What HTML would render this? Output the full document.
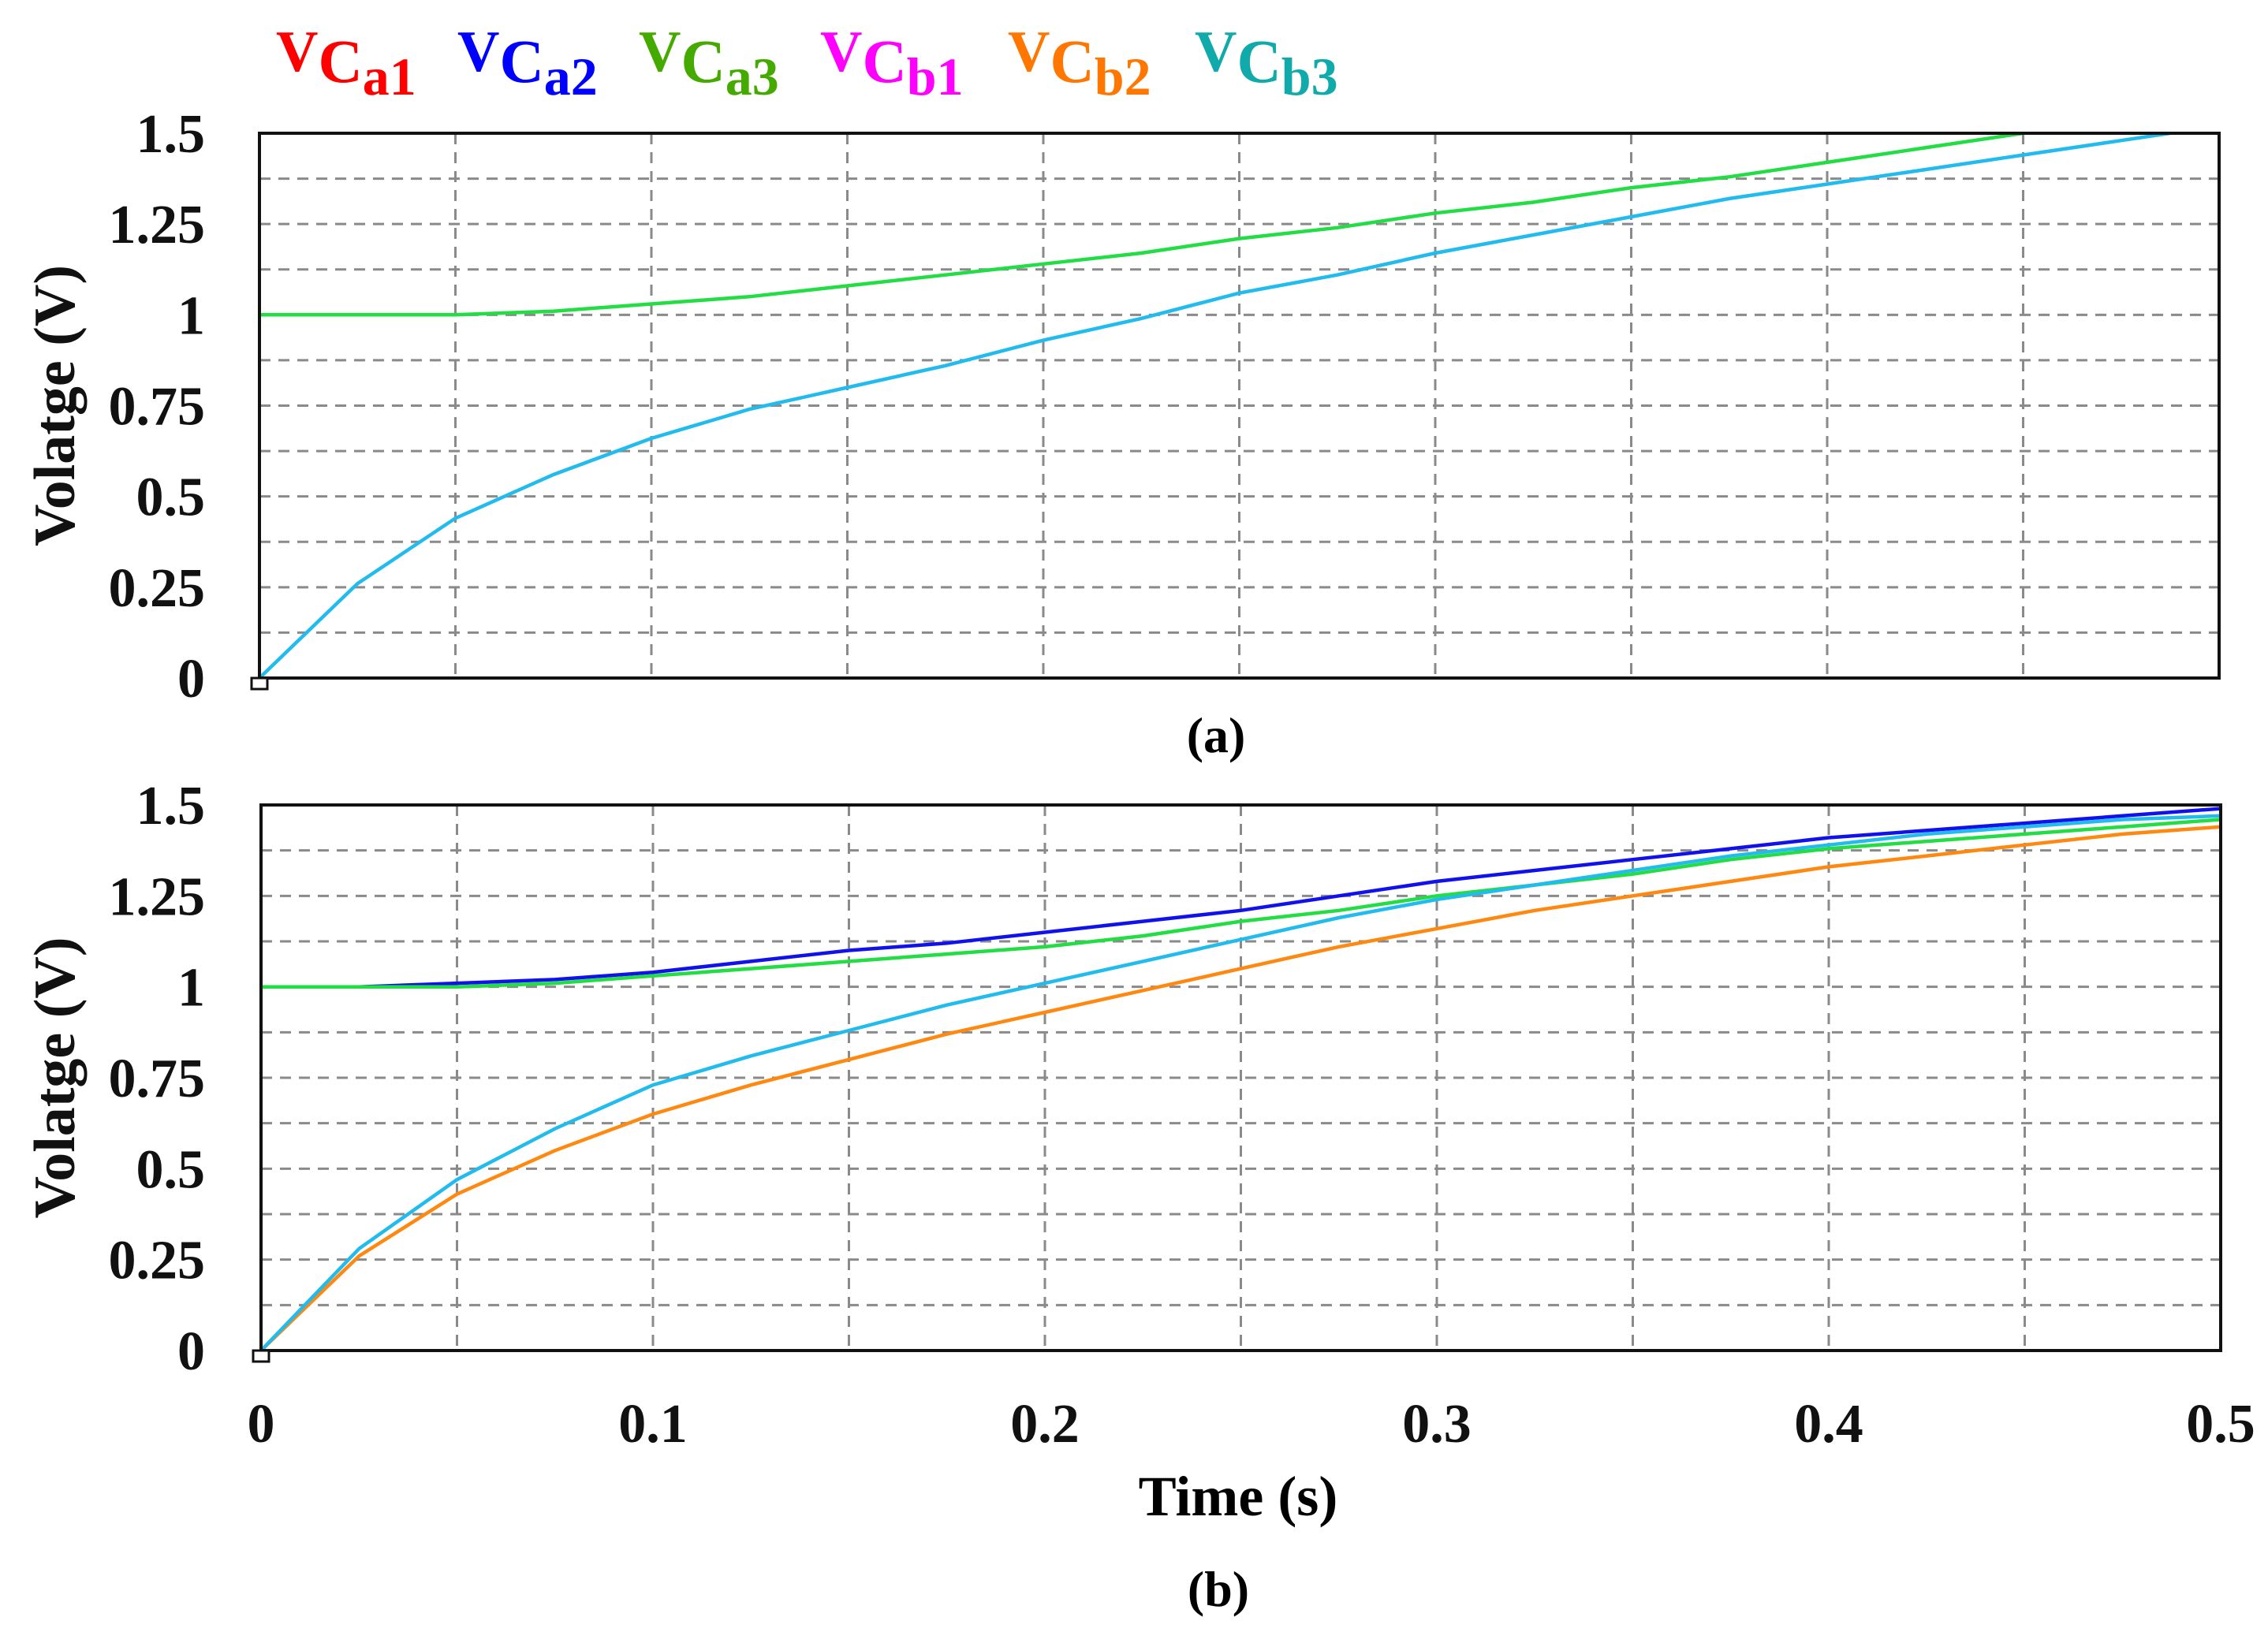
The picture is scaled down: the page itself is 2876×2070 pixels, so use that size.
<!DOCTYPE html>
<html><head><meta charset="utf-8"><style>
html,body{margin:0;padding:0;background:#fff;}
svg{display:block;font-family:"Liberation Serif",serif;font-weight:bold;}
</style></head><body>
<svg id="chart" width="2876" height="2070" viewBox="0 0 2876 2070" xmlns="http://www.w3.org/2000/svg">
<g>
 <text x="350" y="90" fill="#ff0000" font-size="74">V<tspan font-size="78" dy="14">C</tspan><tspan font-size="68" dy="16">a1</tspan></text>
 <text x="580" y="90" fill="#0000ff" font-size="74">V<tspan font-size="78" dy="14">C</tspan><tspan font-size="68" dy="16">a2</tspan></text>
 <text x="810" y="90" fill="#44aa00" font-size="74">V<tspan font-size="78" dy="14">C</tspan><tspan font-size="68" dy="16">a3</tspan></text>
 <text x="1040" y="90" fill="#ff00ff" font-size="74">V<tspan font-size="78" dy="14">C</tspan><tspan font-size="68" dy="16">b1</tspan></text>
 <text x="1278" y="90" fill="#ff7700" font-size="74">V<tspan font-size="78" dy="14">C</tspan><tspan font-size="68" dy="16">b2</tspan></text>
 <text x="1515" y="90" fill="#11aaaa" font-size="74">V<tspan font-size="78" dy="14">C</tspan><tspan font-size="68" dy="16">b3</tspan></text>
</g>
<text x="1542" y="954" font-size="64" text-anchor="middle">(a)</text>
<text x="1545" y="2037" font-size="64" text-anchor="middle">(b)</text>
<text x="1570" y="1922" font-size="72" text-anchor="middle">Time (s)</text>
</svg>
<script>
const timeValues = [0,0.025,0.05,0.075,0.1,0.125,0.15,0.175,0.2,0.225,0.25,0.275,0.3,0.325,0.35,0.375,0.4,0.425,0.45,0.475,0.5];
const topCyan  = [0,0.26,0.44,0.56,0.66,0.74,0.80,0.86,0.93,0.99,1.06,1.11,1.17,1.22,1.27,1.32,1.36,1.40,1.44,1.48,1.52];
const topGreen = [1,1,1.0,1.01,1.03,1.05,1.08,1.11,1.14,1.17,1.21,1.24,1.28,1.31,1.35,1.38,1.42,1.46,1.5,1.54,1.58];
const botBlue   = [1,1,1.01,1.02,1.04,1.07,1.10,1.12,1.15,1.18,1.21,1.25,1.29,1.32,1.35,1.38,1.41,1.43,1.45,1.47,1.49];
const botGreen  = [1,1,1.0,1.01,1.03,1.05,1.07,1.09,1.11,1.14,1.18,1.21,1.25,1.28,1.31,1.35,1.38,1.40,1.42,1.44,1.46];
const botCyan   = [0,0.28,0.47,0.61,0.73,0.81,0.88,0.95,1.01,1.07,1.13,1.19,1.24,1.28,1.32,1.36,1.39,1.42,1.44,1.46,1.47];
const botOrange = [0,0.26,0.43,0.55,0.65,0.73,0.80,0.87,0.93,0.99,1.05,1.11,1.16,1.21,1.25,1.29,1.33,1.36,1.39,1.42,1.44];
const yTickLabels = ["0","0.25","0.5","0.75","1","1.25","1.5"];
const xTickLabels = ["0","0.1","0.2","0.3","0.4","0.5"];

const NS="http://www.w3.org/2000/svg";
const svg=document.getElementById('chart');
function mk(tag,attrs,parent){const e=document.createElementNS(NS,tag);for(const k in attrs)e.setAttribute(k,attrs[k]);(parent||svg).appendChild(e);return e;}

function panel(id,left,top,right,bottom,series,showX){
  const xs=t=>left+(t/0.5)*(right-left);
  const ys=v=>bottom-(v/1.5)*(bottom-top);
  const g=mk('g',{});
  
  
  const clip=mk('clipPath',{id:'clip'+id},g);
  mk('rect',{x:left,y:top,width:right-left,height:bottom-top},clip);
  for(let i=1;i<12;i++){const y=ys(i*0.125);
    const l=mk('line',{x1:left,x2:right,y1:y,y2:y,stroke:'#8a8a8a','stroke-width':3,'stroke-dasharray':'14 10'},g);
    
    }
  for(let i=1;i<10;i++){const x=xs(i*0.05);
    const l=mk('line',{x1:x,x2:x,y1:top,y2:bottom,stroke:'#8a8a8a','stroke-width':3,'stroke-dasharray':'14 10'},g);
    
    }
  series.forEach(s=>{
    const pts=timeValues.map((t,i)=>xs(t).toFixed(1)+','+ys(s.vals[i]).toFixed(1)).join(' ');
    const p=mk('polyline',{points:pts,fill:'none',stroke:s.color,'stroke-width':4.5,'clip-path':'url(#clip'+id+')'},g);
    
    
  });
  const fr=mk('rect',{x:left,y:top,width:right-left,height:bottom-top,fill:'none',stroke:'#111','stroke-width':4},g);
  
  
  const mkr=mk('rect',{x:left-10,y:bottom,width:20,height:14,fill:'#fff',stroke:'#111','stroke-width':3},g);
  
  
  yTickLabels.forEach((lab,i)=>{
    const t=mk('text',{x:260,y:ys(i*0.25)+24,'font-size':70,'text-anchor':'end',fill:'#111'},g);
    t.textContent=lab;
    
    
  });
  const yt=mk('text',{x:0,y:0,'font-size':74,'text-anchor':'middle',fill:'#111',transform:'translate(94,'+((top+bottom)/2)+') rotate(-90)'},g);
  yt.textContent='Volatge (V)';
  
  
  if(showX){
    xTickLabels.forEach((lab,i)=>{
      const t=mk('text',{x:xs(i*0.1),y:1829,'font-size':70,'text-anchor':'middle',fill:'#111'},g);
      t.textContent=lab;
      
      
    });
  }
}
panel('a',329,169,2814,860,[
  {name:'series-top-green',color:'#22dd44',vals:topGreen},
  {name:'series-top-cyan',color:'#22bbee',vals:topCyan}],false);
panel('b',331,1021,2816,1713,[
  {name:'series-bottom-blue',color:'#1111ee',vals:botBlue},
  {name:'series-bottom-green',color:'#22dd44',vals:botGreen},
  {name:'series-bottom-orange',color:'#ff8811',vals:botOrange},
  {name:'series-bottom-cyan',color:'#22bbee',vals:botCyan}],true);
</script>
</body></html>
